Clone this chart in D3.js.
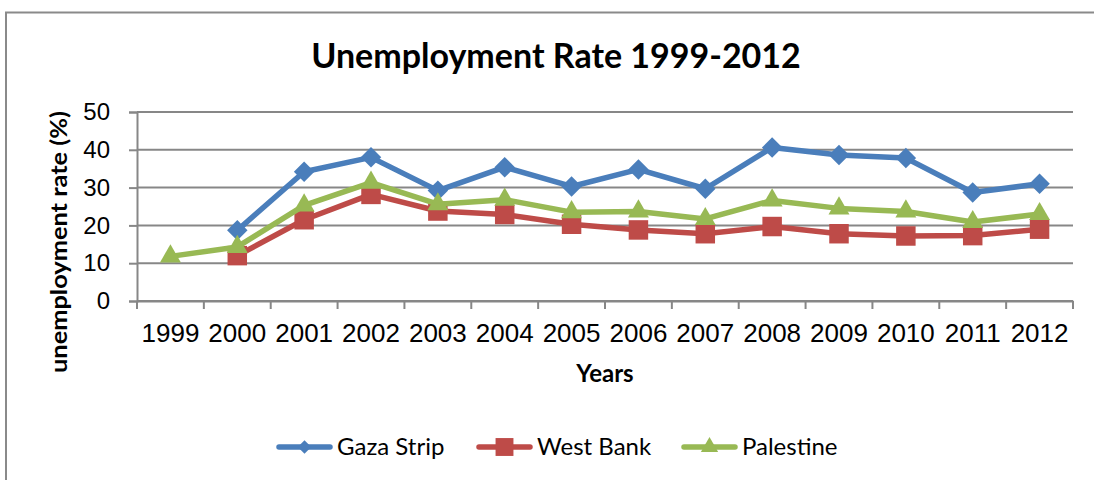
<!DOCTYPE html>
<html>
<head>
<meta charset="utf-8">
<script src="https://cdn.jsdelivr.net/npm/d3@7"></script>
<style>
  body { margin: 0; background: #fff; }
  svg { display: block; }
</style>
</head>
<body>
<svg id="chart" width="1094" height="480"></svg>
<script>
// data
const years = ["1999", "2000", "2001", "2002", "2003", "2004", "2005", "2006", "2007", "2008", "2009", "2010", "2011", "2012"];
const gaza = [null, 18.7, 34.2, 38.0, 29.2, 35.4, 30.3, 34.8, 29.7, 40.6, 38.6, 37.8, 28.7, 31.0];
const westBank = [null, 12.0, 21.5, 28.2, 23.8, 22.9, 20.3, 18.8, 17.8, 19.7, 17.8, 17.2, 17.3, 19.0];
const palestine = [11.8, 14.3, 25.3, 31.3, 25.6, 26.8, 23.5, 23.7, 21.7, 26.6, 24.5, 23.7, 20.9, 23.0];
const yTicks = [0, 10, 20, 30, 40, 50];
const seriesNames = ["Gaza Strip", "West Bank", "Palestine"];

// diamond = square turned 45 degrees
const series = [
    {name: seriesNames[0], values: gaza, color: "#4A7EBB", shape: d3.symbolSquare, rot: 45, size: 210, legendSize: 90},
    {name: seriesNames[1], values: westBank, color: "#BE4B48", shape: d3.symbolSquare, rot: 0, size: 380, legendSize: 320},
    {name: seriesNames[2], values: palestine, color: "#98B954", shape: d3.symbolTriangle, rot: 0, size: 190, legendSize: 130}
];

let svg = d3.select("#chart");
let labelFont = "'Liberation Sans', Arial, sans-serif";
let titleFont = "Lato, 'Open Sans', sans-serif";
let gridColor = "#878787";

// outer frame of the chart, runs off the right and bottom
svg.append("rect")
    .attr("x", 6).attr("y", 12.5)
    .attr("width", 1200).attr("height", 600)
    .attr("fill", "none").attr("stroke", "#8a8a8a").attr("stroke-width", 2);

let plotLeft = 137, plotRight = 1073, plotTop = 112, plotBottom = 301;

let x = d3.scaleBand().domain(years).range([plotLeft, plotRight]);
let y = d3.scaleLinear().domain([0, 50]).range([plotBottom, plotTop]);

// gridlines
svg.append("g")
    .selectAll("line")
    .data(yTicks)
    .join("line")
    .attr("x1", plotLeft).attr("x2", plotRight)
    .attr("y1", d => y(d)).attr("y2", d => y(d))
    .attr("stroke", gridColor).attr("stroke-width", 2);

// y axis
let yAxis = svg.append("g")
    .attr("transform", "translate(" + plotLeft + ",0)")
    .call(d3.axisLeft(y).tickValues(yTicks).tickSize(8).tickPadding(19));
yAxis.select(".domain").attr("stroke", gridColor).attr("stroke-width", 2);
yAxis.selectAll(".tick line").attr("stroke", gridColor).attr("stroke-width", 2);
yAxis.selectAll("text")
    .attr("font-family", labelFont).attr("font-size", 24).attr("fill", "#000");

// x axis, ticks sit on the band edges
let xAxis = svg.append("g")
    .attr("transform", "translate(0," + plotBottom + ")")
    .call(d3.axisBottom(x).tickSize(0).tickPadding(23));
xAxis.select(".domain").attr("stroke", gridColor).attr("stroke-width", 2);
xAxis.selectAll("text")
    .attr("font-family", labelFont).attr("font-size", 26).attr("fill", "#000");

let edges = years.map(d => x(d)).concat([plotRight]);
svg.append("g")
    .selectAll("line")
    .data(edges)
    .join("line")
    .attr("x1", d => d).attr("x2", d => d)
    .attr("y1", plotBottom).attr("y2", plotBottom + 8)
    .attr("stroke", gridColor).attr("stroke-width", 2);

// titles
svg.append("text")
    .attr("x", 556).attr("y", 68)
    .attr("text-anchor", "middle")
    .attr("font-family", titleFont).attr("font-weight", "bold").attr("font-size", 34)
    .text("Unemployment Rate 1999-2012");

svg.append("text")
    .attr("x", (plotLeft + plotRight) / 2).attr("y", 382)
    .attr("text-anchor", "middle")
    .attr("font-family", titleFont).attr("font-weight", "bold").attr("font-size", 24)
    .text("Years");

svg.append("text")
    .attr("transform", "translate(67,242) rotate(-90)")
    .attr("text-anchor", "middle")
    .attr("font-family", titleFont).attr("font-weight", "bold").attr("font-size", 23)
    .attr("textLength", 262).attr("lengthAdjust", "spacingAndGlyphs")
    .text("unemployment rate (%)");

// lines and markers
let cx = i => x(years[i]) + x.bandwidth() / 2;

series.forEach(s => {
    let pts = s.values.map((v, i) => ({i: i, v: v})).filter(p => p.v !== null);

    let line = d3.line()
        .x(p => cx(p.i))
        .y(p => y(p.v));

    svg.append("path")
        .datum(pts)
        .attr("d", line)
        .attr("fill", "none")
        .attr("stroke", s.color)
        .attr("stroke-width", 5.5)
        .attr("stroke-linejoin", "round");

    svg.append("g")
        .selectAll("path")
        .data(pts)
        .join("path")
        .attr("transform", p => "translate(" + cx(p.i) + "," + y(p.v) + ") rotate(" + s.rot + ")")
        .attr("d", d3.symbol().type(s.shape).size(s.size))
        .attr("fill", s.color);
});

// legend
let legendX = [277, 477, 682];
let legendY = 447;
series.forEach((s, k) => {
    let g = svg.append("g").attr("transform", "translate(" + legendX[k] + "," + legendY + ")");
    g.append("line")
        .attr("x1", 2).attr("x2", 53)
        .attr("y1", 0).attr("y2", 0)
        .attr("stroke", s.color).attr("stroke-width", 5.5).attr("stroke-linecap", "round");
    g.append("path")
        .attr("transform", "translate(27.5,0) rotate(" + s.rot + ")")
        .attr("d", d3.symbol().type(s.shape).size(s.legendSize))
        .attr("fill", s.color);
    g.append("text")
        .attr("x", 60).attr("y", 8)
        .attr("font-family", titleFont).attr("font-size", 24)
        .text(s.name);
});
</script>
</body>
</html>
